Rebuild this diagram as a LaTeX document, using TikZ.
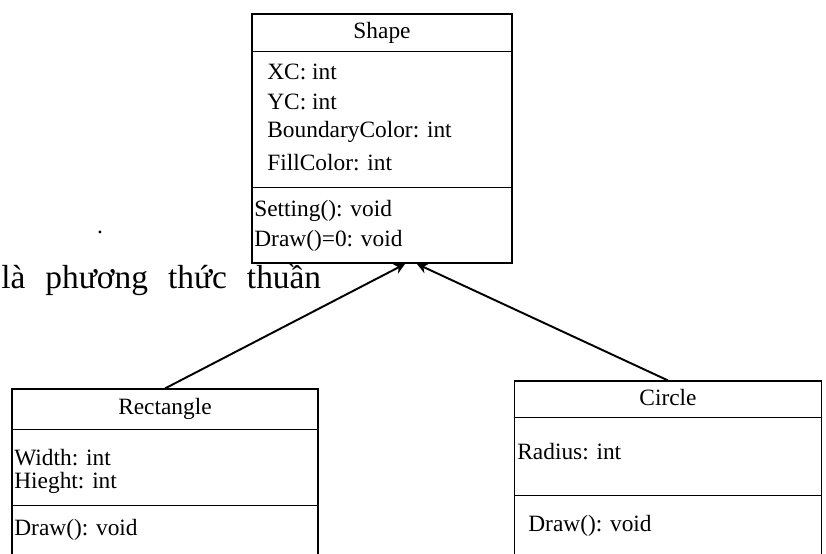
\documentclass[tikz,border=0pt]{standalone}
\usepackage{fontspec}
\setmainfont{Liberation Serif}
\usetikzlibrary{positioning, arrows.meta}

\begin{document}
\begin{tikzpicture}[x=0.2mm, y=-0.2mm, every node/.style={inner sep=0pt, font=\fontsize{13.3}{16}\selectfont},
  classbox/.style={draw, line width=0.6pt, rectangle},
  member/.style={anchor=west},
  inherit/.style={-{Stealth[length=6pt,width=6pt]}, line width=1.1pt}]
  \useasboundingbox (0,0) rectangle (826,554);
  % base class
  \node[classbox, minimum width=52mm, minimum height=49.8mm] (shape) at (382,138.5) {};
  \draw (252,51) -- (512,51);
  \draw (252,187) -- (512,187);
  \node (shapeName) at (382,33) {Shape};
  \node[member] (xc) at (267,72) {XC: int};
  \node[member] (yc) at (267,102) {YC: int};
  \node[member] (bcolor) at (267,132) {BoundaryColor: int};
  \node[member] (fcolor) at (267,163) {FillColor: int};
  \node[member] (setting) at (254,211) {Setting(): void};
  \node[member] (drawS) at (254,241) {Draw()=0: void};
  % derived classes
  \node[classbox, minimum width=61.2mm, minimum height=36.2mm] (rect) at (165,479.5) {};
  \draw (12,429) -- (318,429);
  \draw (12,505) -- (318,505);
  \node (rectName) at (165,409) {Rectangle};
  \node[member] (width) at (14,458) {Width: int};
  \node[member] (height) at (14,483) {Hieght: int};
  \node[member] (drawR) at (14,530) {Draw(): void};
  \node[classbox, minimum width=61.4mm, minimum height=37.8mm] (circ) at (668,475.5) {};
  \draw (515,417) -- (822,417);
  \draw (515,495) -- (822,495);
  \node (circName) at (668,398) {Circle};
  \node[member] (radius) at (517,452) {Radius: int};
  \node[member] (drawC) at (528,526) {Draw(): void};
  % inheritance
  \coordinate (tipR) at (405,264);
  \coordinate (tipC) at (417,264);
  \draw[inherit] (rect.north) -- (tipR);
  \draw[inherit] (circ.north) -- (tipC);
  % surrounding text
  \node (dot) at (100,232) {.};
  \node[anchor=west, font=\fontsize{19}{22}\selectfont] (note) at (1,280) {là\hspace{0.6em}phương\hspace{0.6em}thức\hspace{0.6em}thuần};
\end{tikzpicture}
\end{document}
